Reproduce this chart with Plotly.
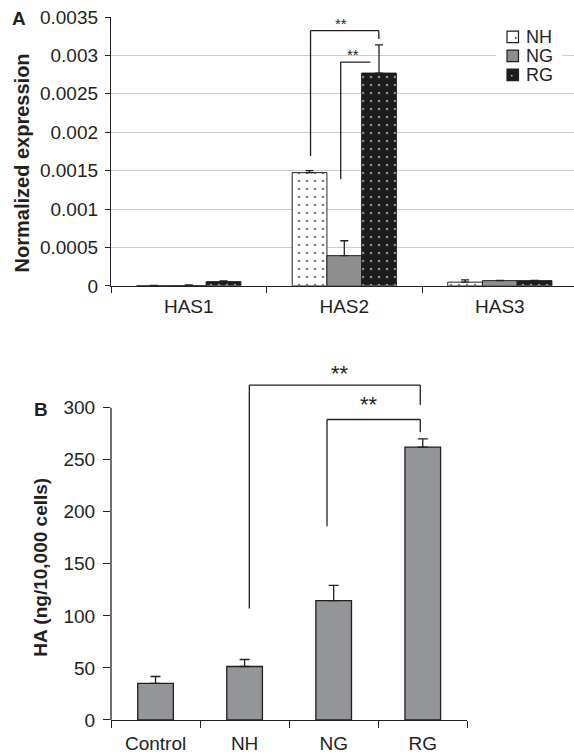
import plotly.graph_objects as go

# ---------------- data ----------------
genes = ["HAS1", "HAS2", "HAS3"]
groups = ["NH", "NG", "RG"]
nh_expr = [0.000002, 0.001474, 0.000048]
nh_err = [0.000004, 0.000026, 0.000030]
ng_expr = [0.000004, 0.000393, 0.000068]
ng_err = [0.000008, 0.000194, 0.000004]
rg_expr = [0.000055, 0.002770, 0.000068]
rg_err = [0.000008, 0.000367, 0.000004]

conditions = ["Control", "NH", "NG", "RG"]
ha_values = [35.1, 51.4, 114.6, 262.1]
ha_err = [6.7, 6.7, 14.7, 7.9]

yticks_a = [0, 0.0005, 0.001, 0.0015, 0.002, 0.0025, 0.003, 0.0035]
yticklabels_a = ["0", "0.0005", "0.001", "0.0015", "0.002", "0.0025", "0.003", "0.0035"]
yticks_b = [0, 50, 100, 150, 200, 250, 300]
yticklabels_b = ["0", "50", "100", "150", "200", "250", "300"]

# ---------------- style ----------------
W, H = 574, 754
ML, MR, MT, MB = 111, 0, 17, 31
PW, PH = W - ML - MR, H - MT - MB
DARK = "#231f20"
FONT = "Liberation Sans, Arial, Helvetica, sans-serif"

B_TOP_VALUE = 345
B_PX_PER_UNIT = (723 - 409.3) / 300


def px_x(px):
    return (px - ML) / PW


def px_y(py):
    return (H - MB - py) / PH


fig = go.Figure()

err_style = dict(type="data", symmetric=False, color=DARK, thickness=1.3, width=4)

fig.add_trace(go.Bar(
    x=genes, y=nh_expr, name=groups[0], xaxis="x", yaxis="y",
    marker=dict(color="white", line=dict(color=DARK, width=1),
                pattern=dict(shape=".", fgcolor="black", bgcolor="white", size=8, solidity=0.09)),
    error_y=dict(array=nh_err, arrayminus=[0] * len(nh_err), **err_style),
))
fig.add_trace(go.Bar(
    x=genes, y=ng_expr, name=groups[1], xaxis="x", yaxis="y",
    marker=dict(color="#8e8e8e", line=dict(color=DARK, width=1)),
    error_y=dict(array=ng_err, arrayminus=[0] * len(ng_err), **err_style),
))
fig.add_trace(go.Bar(
    x=genes, y=rg_expr, name=groups[2], xaxis="x", yaxis="y",
    marker=dict(color="#1c1c1c", line=dict(color=DARK, width=1),
                pattern=dict(shape=".", fgcolor="white", bgcolor="#1c1c1c", size=8, solidity=0.09)),
    error_y=dict(array=rg_err, arrayminus=[0] * len(rg_err), **err_style),
))

fig.add_trace(go.Bar(
    x=conditions, y=ha_values, xaxis="x2", yaxis="y2", width=0.4, showlegend=False,
    marker=dict(color="#939598", line=dict(color=DARK, width=1.3)),
    error_y=dict(array=ha_err, arrayminus=[0] * len(ha_err), type="data", symmetric=False,
                 color=DARK, thickness=1.3, width=5),
))

tickfont = dict(family=FONT, size=19, color=DARK)

fig.update_layout(
    width=W, height=H,
    margin=dict(l=ML, r=MR, t=MT, b=MB),
    paper_bgcolor="white", plot_bgcolor="white",
    barmode="group", bargap=0.33, bargroupgap=0,
    showlegend=False,
    font=dict(family=FONT, color=DARK),
    xaxis=dict(domain=[0, 1], anchor="y", type="category", range=[-0.5, 2.477],
               tickson="boundaries", ticks="outside", ticklen=6, tickwidth=1.3, tickcolor=DARK,
               showline=True, linecolor=DARK, linewidth=1.3, showgrid=False, tickfont=tickfont,
               ticklabelstandoff=3),
    yaxis=dict(domain=[px_y(287), 1], anchor="x", range=[0, 0.0035],
               tickvals=yticks_a, ticktext=yticklabels_a, ticks="outside", ticklen=5,
               tickwidth=1.3, tickcolor=DARK, showline=True, linecolor=DARK, linewidth=1.3,
               showgrid=True, gridcolor="#cccccc", gridwidth=1.3, zeroline=False,
               tickfont=tickfont, ticklabelstandoff=3),
    xaxis2=dict(domain=[0, px_x(467.3)], anchor="y2", type="category", range=[-0.5, 3.5],
                tickson="boundaries", ticks="outside", ticklen=7, tickwidth=1.3, tickcolor=DARK,
                showline=True, linecolor=DARK, linewidth=1.3, showgrid=False, tickfont=tickfont,
                ticklabelstandoff=6),
    yaxis2=dict(domain=[0, px_y(723 - B_TOP_VALUE * B_PX_PER_UNIT)], anchor="x2",
                range=[0, B_TOP_VALUE],
                tickvals=yticks_b, ticktext=yticklabels_b, ticks="outside", ticklen=7,
                tickwidth=1.3, tickcolor=DARK, showline=False, showgrid=False, zeroline=False,
                tickfont=tickfont, ticklabelstandoff=4),
)

shapes = []
line_style = dict(color=DARK, width=1.3)

# y axis line of panel B (only up to 300)
shapes.append(dict(type="line", xref="paper", yref="y2", x0=0, x1=0, y0=0, y1=300, line=line_style))


def bracket(xref, yref, xl, yl0, ytop, xr, yr0):
    out = [dict(type="line", xref=xref, yref=yref, x0=xl, x1=xl, y0=yl0, y1=ytop, line=line_style),
           dict(type="line", xref=xref, yref=yref, x0=xl, x1=xr, y0=ytop, y1=ytop, line=line_style)]
    if yr0 is not None:
        out.append(dict(type="line", xref=xref, yref=yref, x0=xr, x1=xr, y0=yr0, y1=ytop, line=line_style))
    return out


# significance brackets, panel A
shapes += bracket("x", "y", 0.783, 0.001689, 0.003322, 1.222, 0.003215)
shapes += bracket("x", "y", 0.977, 0.001387, 0.002913, 1.168, None)
# panel B
shapes += bracket("x2", "y2", 1.053, 107, 321.7, 2.972, 302.6)
shapes += bracket("x2", "y2", 1.925, 186, 288.6, 2.972, 276.4)

# manual legend (panel A)
shapes.append(dict(type="rect", xref="paper", yref="paper", x0=px_x(496), x1=px_x(562),
                   y0=px_y(86), y1=px_y(27), fillcolor="white", line=dict(width=0), layer="above"))
legend_fills = ["white", "#8e8e8e", "#1c1c1c"]
legend_rows = [37, 56, 75]
for fill, cy in zip(legend_fills, legend_rows):
    shapes.append(dict(type="rect", xref="paper", yref="paper", x0=px_x(507), x1=px_x(518.5),
                       y0=px_y(cy + 5.8), y1=px_y(cy - 5.8), fillcolor=fill,
                       line=dict(color=DARK, width=1.2), layer="above"))
shapes.append(dict(type="circle", xref="paper", yref="paper", x0=px_x(515), x1=px_x(516.6),
                   y0=px_y(38.8), y1=px_y(37.2), fillcolor="black", line=dict(width=0), layer="above"))
shapes.append(dict(type="circle", xref="paper", yref="paper", x0=px_x(511), x1=px_x(512.6),
                   y0=px_y(76.8), y1=px_y(75.2), fillcolor="white", line=dict(width=0), layer="above"))

annotations = []
for name, cy in zip(groups, legend_rows):
    annotations.append(dict(xref="paper", yref="paper", x=px_x(524), y=px_y(cy), text=name,
                            showarrow=False, xanchor="left", yanchor="middle",
                            height=15, valign="middle",
                            font=dict(family=FONT, size=18, color=DARK)))

star_small = dict(family=FONT, size=15, color=DARK)
star_big = dict(family=FONT, size=22, color=DARK)
C = dict(showarrow=False, xanchor="center", yanchor="middle")
annotations += [
    dict(xref="x", yref="y", x=0.982, y=0.003409, text="**", font=star_small, **C),
    dict(xref="x", yref="y", x=1.053, y=0.003007, text="**", font=star_small, **C),
    dict(xref="x2", yref="y2", x=2.071, y=333, text="**", font=star_big, **C),
    dict(xref="x2", yref="y2", x=2.40, y=302.6, text="**", font=star_big, **C),
    # panel letters
    dict(xref="paper", yref="paper", x=px_x(18.5), y=px_y(19), text="<b>A</b>",
         font=dict(family=FONT, size=19, color=DARK), **C),
    dict(xref="paper", yref="paper", x=px_x(41), y=px_y(411), text="<b>B</b>",
         font=dict(family=FONT, size=19, color=DARK), **C),
    # axis titles
    dict(xref="paper", yref="paper", x=px_x(22), y=px_y(164), text="<b>Normalized expression</b>",
         textangle=-90, font=dict(family=FONT, size=20, color=DARK), **C),
    dict(xref="paper", yref="paper", x=px_x(41), y=px_y(570), text="<b>HA (ng/10,000 cells)</b>",
         textangle=-90, font=dict(family=FONT, size=19, color=DARK), **C),
]

fig.update_layout(shapes=shapes, annotations=annotations)

fig.write_html("out.html", config={"displayModeBar": False},
               post_script="document.body.style.margin='0';document.body.style.overflow='hidden';")
